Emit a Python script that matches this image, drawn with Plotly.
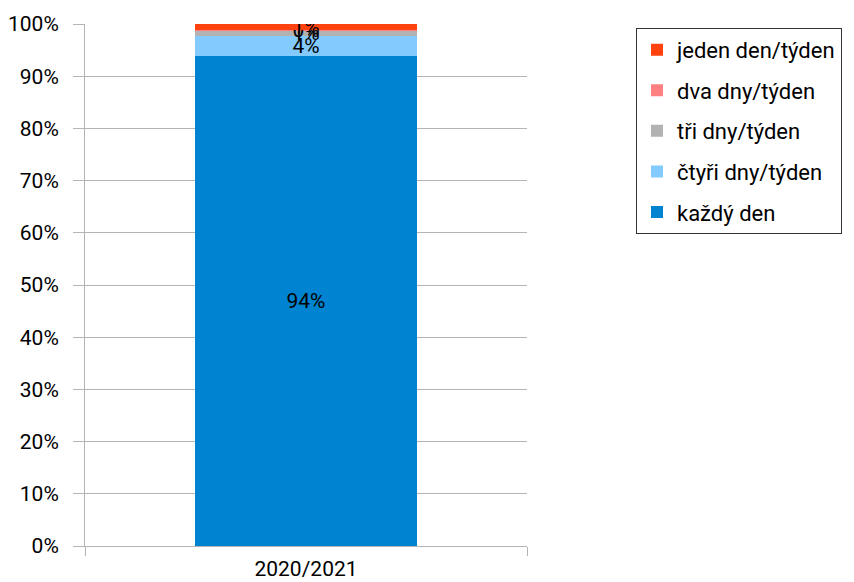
import plotly.graph_objects as go

categories = ["2020/2021"]
series_names = ["každý den", "čtyři dny/týden", "tři dny/týden", "dva dny/týden", "jeden den/týden"]
each_day = [93.9]
four_days = [3.8]
three_days = [1.1]
two_days = [0.1]
one_day = [1.1]
colors = ["#0084D1", "#83CAFF", "#B2B2B2", "#FF8080", "#FF420E"]
y_ticks = [0, 10, 20, 30, 40, 50, 60, 70, 80, 90, 100]
y_tick_labels = [f"{v}%" for v in y_ticks]

series_values = [each_day, four_days, three_days, two_days, one_day]
totals = [sum(s[i] for s in series_values) for i in range(len(categories))]

FONT = "Roboto, sans-serif"

fig = go.Figure()
n = len(series_names)
for i, (name, vals, col) in enumerate(zip(series_names, series_values, colors)):
    labels = [f"{round(v / t * 100):.0f}%" for v, t in zip(vals, totals)]
    fig.add_trace(go.Bar(
        x=categories, y=vals, name=name, marker=dict(color=col, line=dict(width=0)),
        text=labels, textposition="inside", insidetextanchor="middle",
        textfont=dict(color="black", size=21, family=FONT),
        constraintext="none", legendgroup=name, legendrank=n - i, width=0.502,
    ))

# page body has an 8px margin, so the figure is 8px smaller and margins shifted
fig.update_layout(
    width=846, height=574,
    barmode="stack", barnorm="percent",
    margin=dict(l=77, r=327, t=16, b=36, autoexpand=False),
    paper_bgcolor="white", plot_bgcolor="white",
    font=dict(family=FONT, size=21, color="black"),
    uniformtext=dict(minsize=21, mode="show"),
    legend=dict(
        x=1.2466, y=0.9926, xanchor="left", yanchor="top",
        traceorder="grouped", tracegroupgap=9,
        bordercolor="#333333", borderwidth=1,
        font=dict(family=FONT, size=22, color="black"),
    ),
    showlegend=True,
)
fig.update_yaxes(
    range=[0, 100], tickvals=y_ticks, ticktext=y_tick_labels,
    showgrid=True, gridcolor="#B3B3B3", gridwidth=1,
    showline=True, linecolor="#B3B3B3",
    ticks="outside", ticklen=11, tickcolor="#B3B3B3",
    ticklabelstandoff=10,
    zeroline=False, tickfont=dict(size=21), automargin=False,
)
fig.update_xaxes(
    type="category", tickson="boundaries",
    showgrid=True, gridcolor="#B3B3B3",
    showline=True, linecolor="#B3B3B3",
    ticks="outside", ticklen=9, tickcolor="#B3B3B3",
    ticklabelstandoff=4,
    tickfont=dict(size=21), automargin=False,
)

fig.write_html("out.html")
